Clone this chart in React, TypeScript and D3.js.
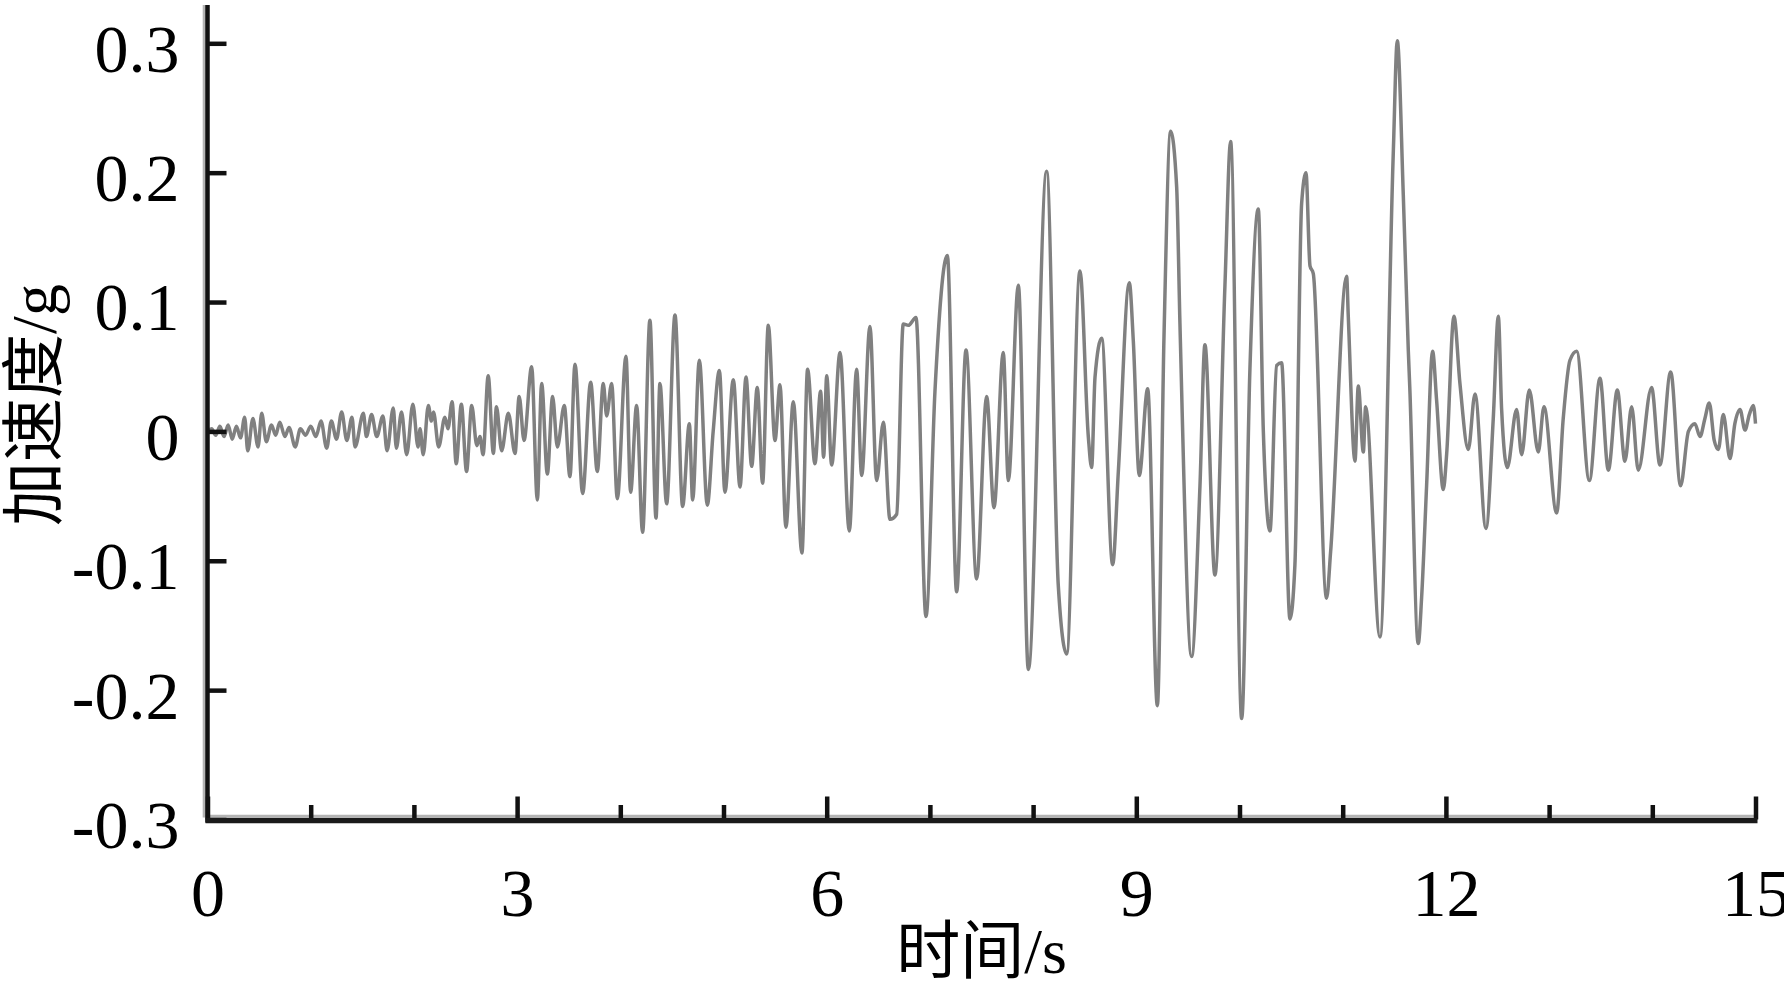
import { useEffect, useRef } from 'react';
import * as d3 from 'd3';

// time (s) and acceleration (g), peak by peak
const timeS = [
  0.00, 0.04, 0.08, 0.12, 0.16, 0.20, 0.24, 0.28, 0.32, 0.36, 0.39, 0.44, 0.49, 0.525, 0.57, 0.62, 0.66, 0.70, 0.75, 0.79,
  0.85, 0.90, 0.95, 1.00, 1.05, 1.10, 1.155, 1.20, 1.25, 1.30, 1.35, 1.40, 1.43, 1.51, 1.54, 1.59, 1.64, 1.70, 1.74, 1.80,
  1.83, 1.88, 1.93, 1.99, 2.04, 2.06, 2.09, 2.14, 2.17, 2.19, 2.24, 2.30, 2.33, 2.37, 2.41, 2.46, 2.51, 2.56, 2.61, 2.64,
  2.67, 2.72, 2.77, 2.80, 2.85, 2.915, 2.98, 3.02, 3.067, 3.141, 3.196, 3.238, 3.293, 3.344, 3.39, 3.457, 3.512, 3.561, 3.635, 3.713,
  3.777, 3.835, 3.868, 3.916, 3.971, 4.055, 4.10, 4.158, 4.216, 4.287, 4.346, 4.384, 4.449, 4.53, 4.604, 4.669, 4.701, 4.766, 4.843, 4.90,
  4.96, 5.014, 5.095, 5.16, 5.218, 5.273, 5.327, 5.379, 5.434, 5.499, 5.547, 5.605, 5.676, 5.76, 5.815, 5.886, 5.941, 5.97, 6.00, 6.048,
  6.129, 6.219, 6.29, 6.339, 6.419, 6.484, 6.549, 6.613, 6.678, 6.742, 6.791, 6.865, 6.962, 7.049, 7.169, 7.259, 7.35, 7.453, 7.55, 7.621,
  7.711, 7.76, 7.857, 7.954, 8.131, 8.244, 8.325, 8.454, 8.535, 8.567, 8.60, 8.664, 8.771, 8.826, 8.932, 8.971, 9.029, 9.11, 9.204, 9.268,
  9.333, 9.391, 9.423, 9.536, 9.617, 9.665, 9.762, 9.859, 9.914, 10.021, 10.101, 10.182, 10.231, 10.295, 10.36, 10.408, 10.489, 10.537, 10.602, 10.644,
  10.683, 10.715, 10.844, 10.883, 11.038, 11.054, 11.119, 11.151, 11.20, 11.222, 11.361, 11.49, 11.529, 11.587, 11.636, 11.65, 11.732, 11.765, 11.813, 11.871,
  11.91, 11.975, 12.007, 12.078, 12.136, 12.217, 12.282, 12.388, 12.459, 12.508, 12.54, 12.595, 12.685, 12.734, 12.808, 12.895, 12.95, 13.073, 13.137, 13.202,
  13.267, 13.39, 13.493, 13.574, 13.661, 13.735, 13.80, 13.864, 13.993, 14.074, 14.178, 14.274, 14.35, 14.413, 14.462, 14.51, 14.552, 14.60, 14.64, 14.688,
  14.753, 14.80, 14.85, 14.898, 14.94, 14.979, 15.0,
];
const accelG = [
  0.000, 0.002, -0.003, 0.004, -0.004, 0.005, -0.006, 0.004, -0.005, 0.011, -0.015, 0.010, -0.012, 0.014, -0.008, 0.005, -0.003, 0.007, -0.004, 0.003,
  -0.012, 0.002, -0.003, 0.004, -0.004, 0.008, -0.013, 0.008, -0.006, 0.015, -0.007, 0.011, -0.012, 0.014, -0.004, 0.013, -0.004, 0.012, -0.015, 0.018,
  -0.013, 0.015, -0.018, 0.021, -0.012, 0.002, -0.018, 0.020, 0.008, 0.015, -0.012, 0.011, 0.002, 0.023, -0.025, 0.021, -0.031, 0.020, -0.011, -0.004,
  -0.018, 0.043, -0.017, 0.019, -0.015, 0.014, -0.017, 0.027, -0.007, 0.050, -0.053, 0.037, -0.033, 0.027, -0.012, 0.020, -0.035, 0.052, -0.048, 0.038,
  -0.031, 0.037, 0.012, 0.037, -0.052, 0.058, -0.047, 0.020, -0.078, 0.086, -0.067, 0.037, -0.056, 0.090, -0.058, 0.006, -0.053, 0.055, -0.057, 0.000,
  0.047, -0.047, 0.040, -0.043, 0.042, -0.027, 0.034, -0.040, 0.082, -0.007, 0.036, -0.074, 0.023, -0.094, 0.048, -0.025, 0.031, -0.020, 0.043, -0.026,
  0.061, -0.077, 0.048, -0.034, 0.081, -0.038, 0.007, -0.068, -0.064, 0.083, 0.082, 0.088, -0.143, 0.031, 0.136, -0.124, 0.063, -0.114, 0.027, -0.059,
  0.061, -0.038, 0.113, -0.184, 0.201, -0.119, -0.172, 0.124, -0.004, -0.028, 0.042, 0.072, -0.103, -0.031, 0.115, 0.070, -0.034, 0.033, -0.212, 0.072,
  0.232, 0.189, 0.083, -0.174, -0.042, 0.067, -0.111, 0.113, 0.224, -0.222, 0.048, 0.172, 0.000, -0.077, 0.051, 0.053, -0.145, -0.103, 0.176, 0.200,
  0.128, 0.122, -0.129, -0.093, 0.120, 0.089, -0.023, 0.035, -0.016, 0.019, -0.159, 0.215, 0.302, 0.183, 0.062, 0.034, -0.164, -0.128, -0.042, 0.062,
  0.024, -0.045, -0.018, 0.089, 0.037, -0.014, 0.029, -0.075, 0.010, 0.089, 0.017, -0.028, 0.017, -0.018, 0.032, -0.016, 0.019, -0.063, 0.010, 0.055,
  0.062, -0.038, 0.041, -0.030, 0.032, -0.023, 0.019, -0.030, 0.034, -0.026, 0.046, -0.042, 0.000, 0.006, -0.004, 0.010, 0.022, -0.007, -0.014, 0.013,
  -0.021, 0.006, 0.017, 0.001, 0.013, 0.020, 0.006,
];

const yTicks = [-0.3, -0.2, -0.1, 0, 0.1, 0.2, 0.3];
const yTickLabels = ['-0.3', '-0.2', '-0.1', '0', '0.1', '0.2', '0.3'];
const xMajor = [0, 3, 6, 9, 12, 15];
const xMinor = [1, 2, 4, 5, 7, 8, 10, 11, 13, 14];
const xTitle = '时间/s';
const yTitle = '加速度/g';

const FONT = '"Liberation Serif", "Times New Roman", "Noto Sans CJK SC", serif';

const Chart = () => {
  const ref = useRef<SVGSVGElement>(null);

  useEffect(() => {
    const svg = d3.select(ref.current);
    svg.selectAll('*').remove();
    const width = 1784;
    const height = 988;
    const margin = { top: 43.3, right: 28.5, bottom: 168.5, left: 207.5 };
    const innerBottom = height - margin.bottom;

    const x = d3.scaleLinear().domain([0, 15]).range([margin.left, width - margin.right]);
    const y = d3.scaleLinear().domain([-0.3, 0.3]).range([innerBottom, margin.top]);

    // waveform
    const data = timeS.map((t, i) => ({ t, a: accelG[i] }));
    const line = d3
      .line<{ t: number; a: number }>()
      .x(d => x(d.t))
      .y(d => y(d.a))
      .curve(d3.curveMonotoneX);
    svg
      .append('path')
      .datum(data)
      .attr('d', line)
      .attr('fill', 'none')
      .attr('stroke', '#808080')
      .attr('stroke-width', 3.5)
      .attr('stroke-linejoin', 'round');

    // gray shadow of axes
    svg.append('line')
      .attr('x1', margin.left - 3.3).attr('x2', margin.left - 3.3)
      .attr('y1', 5).attr('y2', innerBottom - 2)
      .attr('stroke', '#b4b4b4').attr('stroke-width', 3);
    svg.append('line')
      .attr('x1', margin.left - 3).attr('x2', x(15) + 2)
      .attr('y1', innerBottom - 3.4).attr('y2', innerBottom - 3.4)
      .attr('stroke', '#b4b4b4').attr('stroke-width', 2.5);

    // y axis, ticks pointing inward
    const yAxis = d3.axisLeft(y)
      .tickValues(yTicks)
      .tickFormat((d, i) => yTickLabels[i])
      .tickSize(-19)
      .tickSizeOuter(0)
      .tickPadding(28);
    const yG = svg.append('g').attr('transform', `translate(${margin.left},0)`).call(yAxis);
    yG.select('.domain').remove();
    yG.selectAll('.tick line').attr('stroke', '#111').attr('stroke-width', 4.5);
    yG.selectAll('.tick text')
      .attr('dy', '0.41em')
      .attr('fill', '#000')
      .style('font-family', FONT)
      .style('font-size', '68px');

    // x axis: major ticks with labels, minor ticks without
    const xAxis = d3.axisBottom(x)
      .tickValues(xMajor)
      .tickFormat(d3.format('d'))
      .tickSize(-23)
      .tickSizeOuter(0)
      .tickPadding(48);
    const xG = svg.append('g').attr('transform', `translate(0,${innerBottom})`).call(xAxis);
    xG.select('.domain').remove();
    xG.selectAll('.tick line').attr('stroke', '#111').attr('stroke-width', 4.5);
    xG.selectAll('.tick text')
      .attr('fill', '#000')
      .style('font-family', FONT)
      .style('font-size', '68px');

    const xMinorAxis = d3.axisBottom(x)
      .tickValues(xMinor)
      .tickFormat(() => '')
      .tickSize(-14.5)
      .tickSizeOuter(0);
    const xmG = svg.append('g').attr('transform', `translate(0,${innerBottom})`).call(xMinorAxis);
    xmG.select('.domain').remove();
    xmG.selectAll('.tick line').attr('stroke', '#111').attr('stroke-width', 4.5);

    // axis lines
    svg.append('line')
      .attr('x1', margin.left).attr('x2', margin.left)
      .attr('y1', 5).attr('y2', innerBottom + 3)
      .attr('stroke', '#111').attr('stroke-width', 4.5);
    svg.append('line')
      .attr('x1', margin.left - 2).attr('x2', x(15) + 2)
      .attr('y1', innerBottom + 1).attr('y2', innerBottom + 1)
      .attr('stroke', '#1a1a1a').attr('stroke-width', 5.5);

    // titles
    svg.append('text')
      .text(xTitle)
      .attr('x', (x(0) + x(15)) / 2)
      .attr('y', 973)
      .attr('text-anchor', 'middle')
      .attr('fill', '#000')
      .style('font-family', FONT)
      .style('font-size', '64px');

    svg.append('text')
      .text(yTitle)
      .attr('transform', `translate(56,405) rotate(-90)`)
      .attr('text-anchor', 'middle')
      .attr('fill', '#000')
      .style('font-family', FONT)
      .style('font-size', '64px');
  }, []);

  return (
    <svg
      ref={ref}
      width={1784}
      height={988}
      style={{ position: 'absolute', left: 0, top: 0, background: '#fff' }}
    />
  );
};

export default function App() {
  return <Chart />;
}
